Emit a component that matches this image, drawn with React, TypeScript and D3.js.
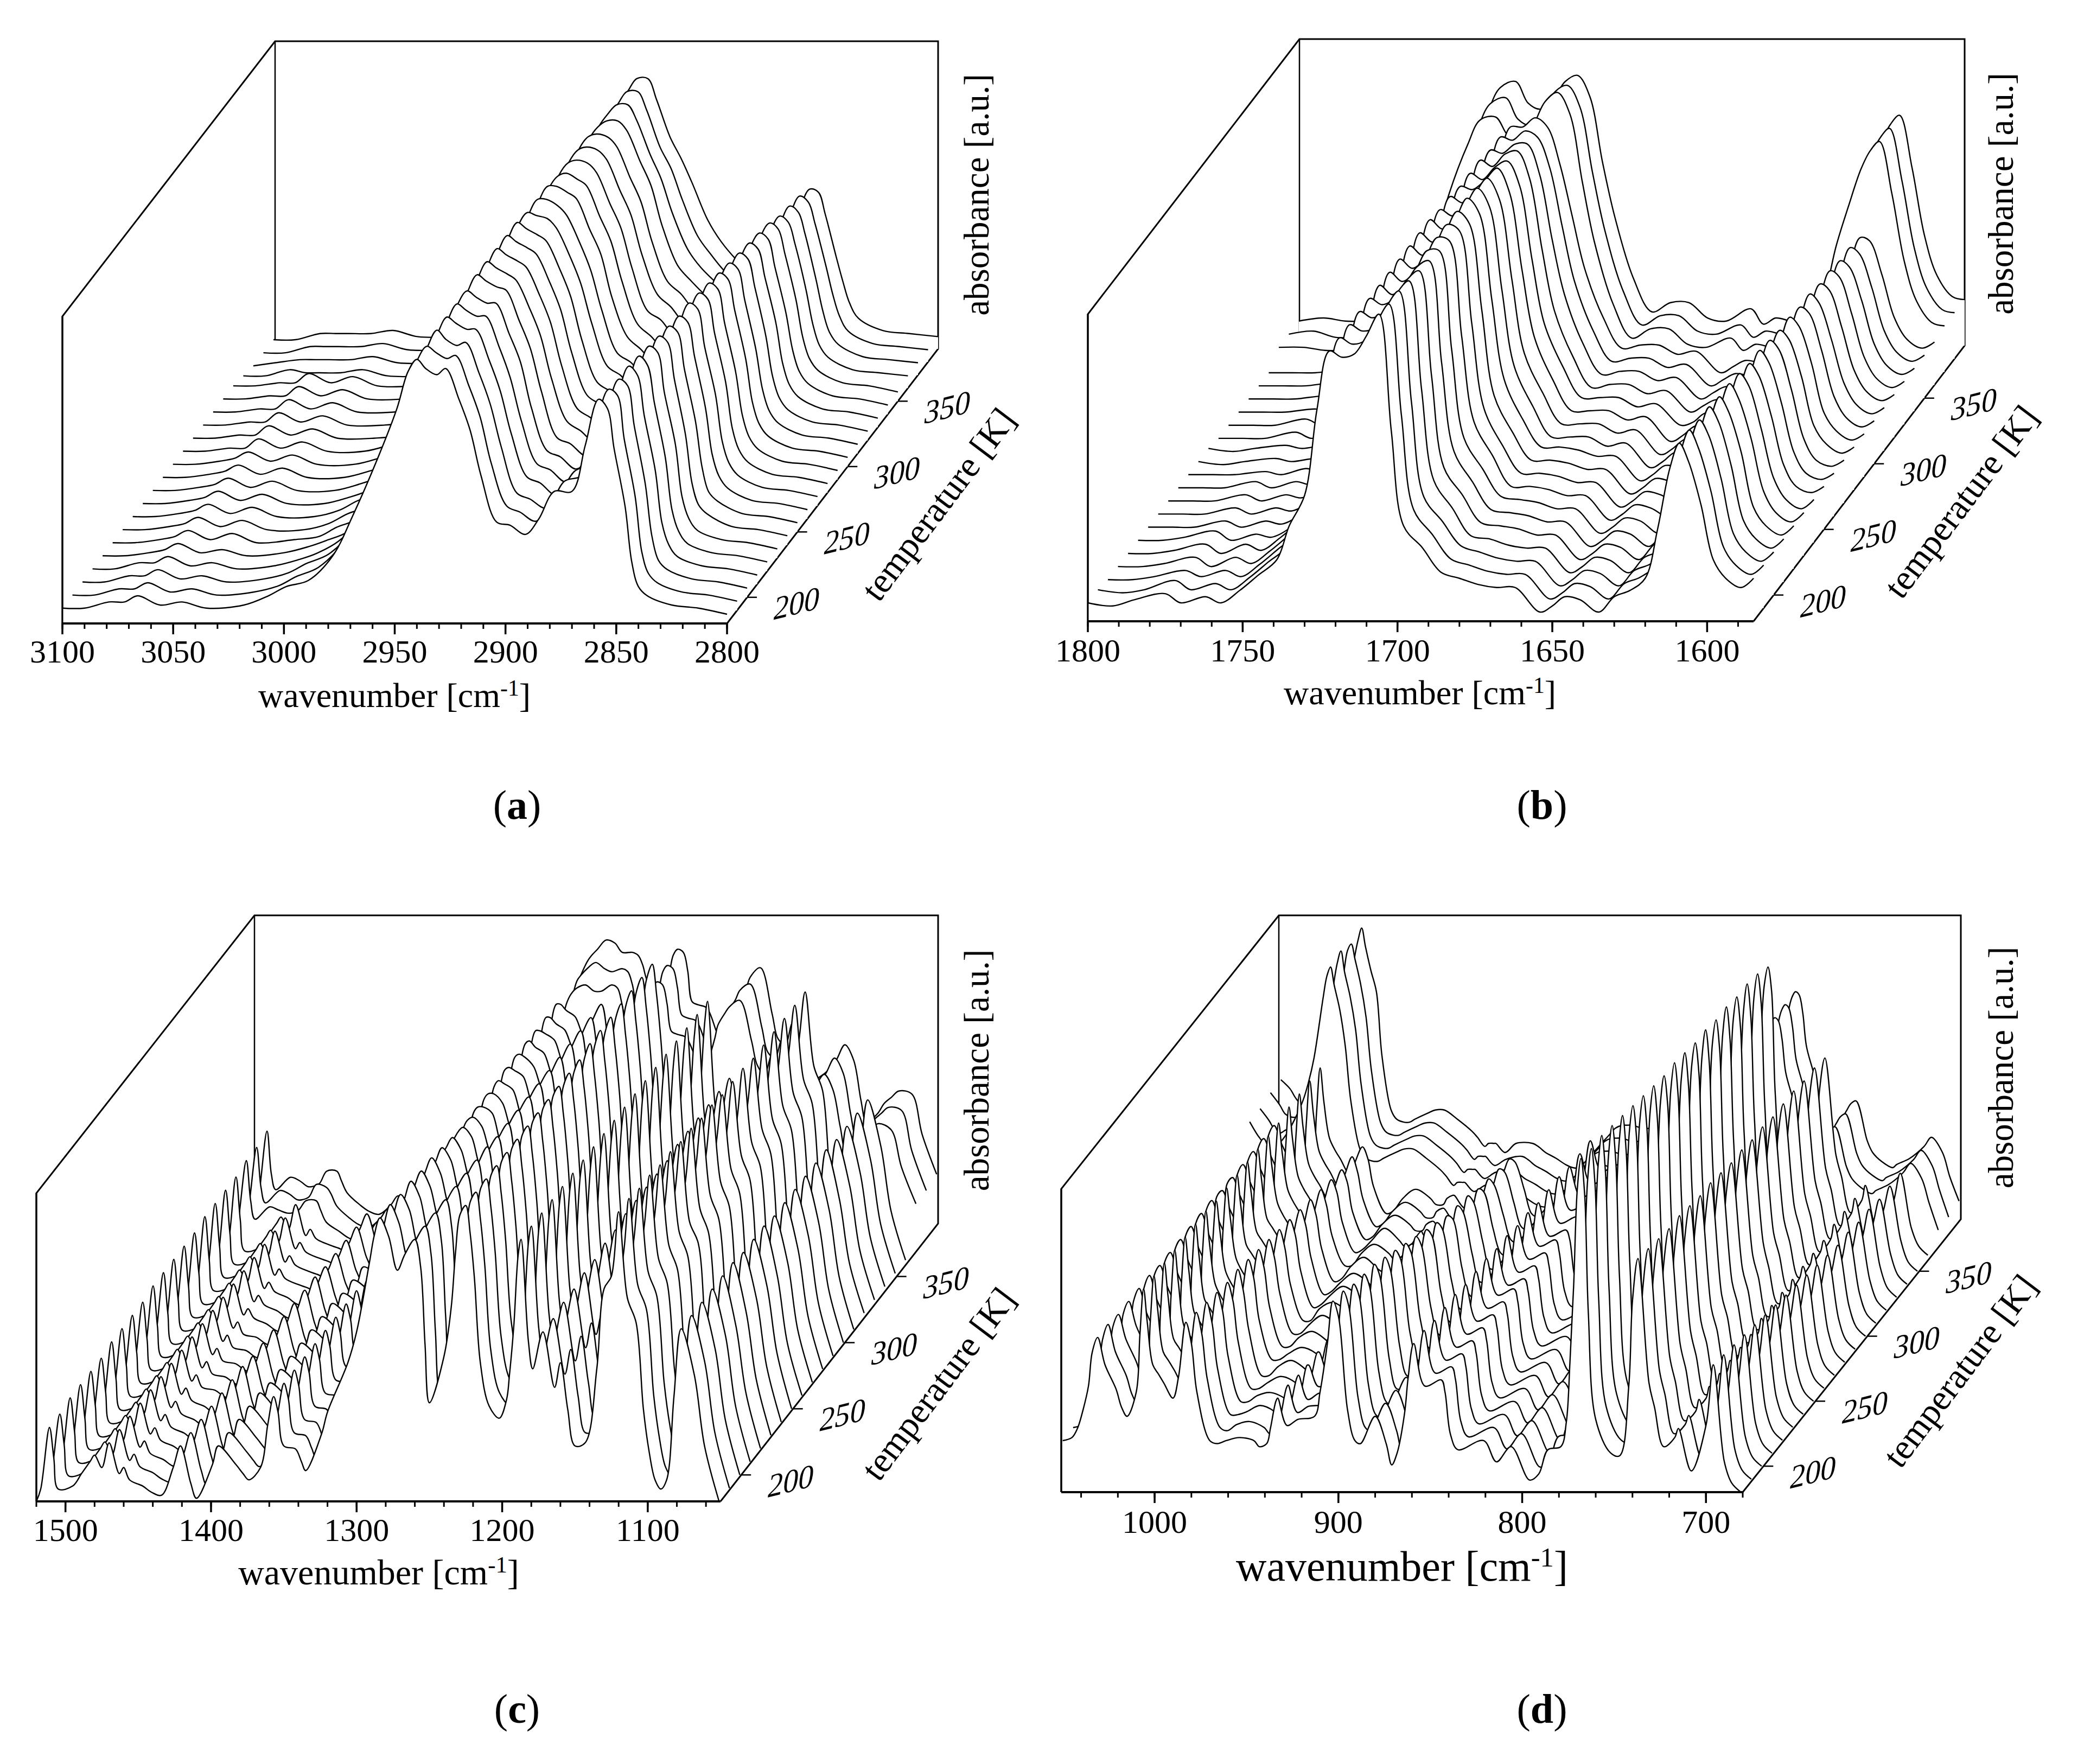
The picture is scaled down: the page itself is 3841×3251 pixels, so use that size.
import React from "react";
import * as d3 from "d3";

// temperature of each trace, front to back
const temperatures = [180,190,200,210,220,230,240,250,260,270,280,290,300,310,320,330,340,350,360,370,380,390];
const tempTicks = [200,250,300,350];

const wnA = [3100,3090,3079,3072,3066,3056,3046,3035,3018,3007,2999,2989,2978,2969,2957,2949,2944,2940,2936,2931,2927,2921,2916,2911,2904,2898,2891,2885,2878,2870,2864,2858,2854,2851,2846,2843,2840,2836,2825,2813,2800];
const absA = [
[5,5,7,7,9,6,7,5,6,9,12,14,22,35,55,70,82,86,83,81,83,73,63,48,33,32,29,34,43,43,58,73,70,57,38,20,12,9,6,5,3],
[5,5,7,7,9,6,7,5,6,8,11,14,22,35,55,70,82,86,84,82,83,73,63,48,34,32,29,33,42,44,59,72,70,56,37,19,12,9,6,5,3],
[5,5,7,7,9,6,7,5,6,8,11,14,22,35,55,70,82,87,84,82,83,73,63,49,34,32,29,33,41,44,58,71,69,56,37,20,12,9,6,5,3],
[5,5,7,7,9,6,7,5,6,8,10,14,22,35,55,70,82,87,85,83,83,73,63,49,35,33,29,32,40,44,58,71,68,55,37,20,13,9,6,5,3],
[5,5,6,7,9,6,7,5,6,8,10,13,22,35,55,70,82,87,85,83,83,73,63,49,35,33,29,32,39,44,57,70,67,55,37,20,13,9,6,5,3],
[5,5,6,7,9,6,8,5,6,7,10,13,22,35,56,70,83,87,85,83,83,73,64,49,35,33,29,32,39,44,57,69,67,54,37,20,13,9,6,5,3],
[5,5,6,7,9,6,8,5,5,7,10,13,22,36,56,71,83,88,86,84,83,73,64,50,35,33,29,31,38,44,56,68,66,54,36,20,13,10,6,5,3],
[5,5,6,7,9,6,8,5,5,7,10,13,22,36,56,71,83,88,86,84,82,73,64,50,36,33,29,31,37,44,56,67,65,53,36,21,13,10,6,5,3],
[5,5,6,7,9,6,8,5,5,7,9,13,22,36,56,71,83,88,86,84,82,73,64,50,36,33,29,31,37,44,55,66,64,53,36,21,14,10,6,5,3],
[5,5,6,7,9,6,8,5,5,7,9,13,22,36,56,71,83,88,86,84,82,73,64,50,36,33,29,30,36,44,55,66,64,52,36,21,14,10,6,5,3],
[5,5,6,7,9,6,8,5,5,7,9,13,22,36,56,71,83,88,86,84,82,73,64,50,36,33,29,30,36,44,55,65,63,52,36,21,14,10,6,5,3],
[5,5,6,7,9,6,8,5,5,7,9,13,22,36,56,71,83,87,86,85,82,73,64,51,37,34,29,30,35,43,54,64,62,51,35,21,14,10,6,5,3],
[5,5,6,6,9,6,8,5,5,7,9,12,21,36,56,71,82,87,87,85,82,73,64,51,37,34,29,29,34,42,53,63,61,51,35,21,14,10,6,5,3],
[5,5,6,6,9,6,8,5,5,6,9,12,21,36,57,71,82,87,87,85,83,73,65,51,38,34,29,29,33,41,53,62,60,50,34,21,14,10,6,5,3],
[5,5,6,6,9,6,8,5,5,6,8,12,21,36,57,72,82,86,87,85,83,73,65,52,38,34,29,29,33,40,52,61,59,50,34,21,14,10,6,5,3],
[5,5,6,6,9,6,8,5,5,6,8,12,21,36,57,72,82,86,87,86,83,73,65,52,38,35,29,28,32,39,51,60,58,49,34,21,14,10,6,5,3],
[5,5,6,6,9,6,8,5,5,6,8,12,21,36,57,72,82,86,87,86,83,73,65,52,39,35,29,28,32,39,51,59,57,48,33,21,14,10,6,5,3],
[5,5,6,6,9,6,8,5,5,6,8,12,21,36,57,72,82,86,87,86,83,73,65,52,39,35,29,28,31,38,50,58,56,48,33,21,14,10,6,5,3],
[4,4,6,5,5,5,6,4,4,5,8,11,20,36,58,72,81,85,87,87,84,74,66,53,40,35,30,27,28,35,47,56,54,47,32,21,14,10,6,5,4],
[3,4,5,5,5,5,6,4,4,5,8,11,20,36,58,72,81,85,88,88,83,72,64,53,41,35,30,26,27,34,45,55,53,46,31,21,14,10,6,5,4],
[3,3,5,5,5,5,6,4,4,5,8,11,20,36,58,72,80,84,88,88,82,70,63,53,41,35,29,26,26,33,44,54,52,45,31,22,15,10,6,5,4],
[3,3,5,5,5,5,6,4,4,5,8,11,20,36,58,72,80,84,88,88,81,69,62,54,42,35,29,25,25,32,42,52,51,44,30,22,15,10,6,5,4],
];

const wnB = [1800,1792,1785,1775,1770,1762,1757,1751,1745,1739,1735,1730,1726,1722,1718,1714,1710,1706,1702,1698,1692,1686,1680,1674,1668,1662,1654,1650,1646,1641,1635,1630,1625,1620,1616,1612,1609,1606,1602,1598,1594,1589,1585];
const absB = [
[6,5,7,9,6,8,6,10,15,20,31,41,69,88,86,87,93,100,62,31,24,16,14,12,11,11,3,5,8,7,3,8,10,14,30,50,58,52,38,20,14,11,14],
[6,5,6,9,6,8,6,10,15,20,31,41,69,88,86,87,93,99,63,32,24,16,14,12,11,11,3,5,8,7,3,8,10,14,30,50,58,52,38,20,14,11,14],
[5,5,6,8,6,8,6,10,15,20,31,41,69,88,86,87,94,99,63,32,24,16,14,12,11,11,3,5,8,7,3,8,10,14,30,49,57,52,38,20,14,11,14],
[5,5,6,8,5,8,6,10,15,20,31,41,69,88,86,88,94,98,63,33,24,15,14,12,11,11,3,5,8,7,3,8,10,14,30,49,57,52,38,20,14,11,14],
[5,5,6,8,5,8,6,10,15,20,31,41,69,88,86,88,94,97,63,33,24,15,14,13,11,11,3,5,8,7,3,8,10,14,29,48,56,51,38,20,14,11,14],
[5,5,6,8,5,7,6,9,15,20,31,41,69,88,85,88,94,96,63,34,24,15,14,13,11,11,3,5,8,7,3,8,10,14,29,48,56,51,38,21,14,11,14],
[5,5,5,7,5,7,6,9,15,20,31,41,69,88,85,88,95,95,63,34,24,15,14,13,11,11,3,5,8,7,3,8,10,14,29,47,55,51,37,21,14,11,14],
[5,5,5,7,5,7,6,9,15,20,31,41,69,88,85,88,95,94,63,35,24,14,14,13,11,11,3,5,8,7,4,8,10,14,28,46,54,50,37,21,14,12,14],
[5,5,5,7,5,7,6,9,15,20,31,41,70,88,85,88,95,93,63,35,23,14,14,13,11,11,3,5,8,7,4,8,10,13,28,46,54,50,37,21,14,12,14],
[5,5,5,7,5,7,6,9,15,20,31,41,70,88,85,88,95,91,63,35,23,14,14,13,11,11,3,5,8,7,4,8,10,13,28,45,53,50,37,21,14,12,14],
[5,5,5,6,5,7,6,9,15,20,31,41,70,88,85,88,95,90,62,36,23,14,14,13,11,11,3,5,8,7,4,7,10,13,27,45,52,49,37,21,15,12,14],
[5,4,5,6,5,6,5,9,14,20,31,41,70,87,85,88,94,88,61,36,23,13,13,13,10,11,3,5,8,7,4,7,10,13,27,44,52,49,37,21,15,12,14],
[5,4,5,6,5,6,5,9,14,20,31,41,70,87,85,88,93,86,60,36,23,13,13,13,10,11,3,5,8,7,4,7,9,13,27,43,51,49,37,22,15,12,14],
[4,4,4,6,4,6,5,9,14,20,31,41,70,86,85,88,92,84,59,37,23,13,13,13,10,11,3,5,8,7,4,7,9,13,26,43,51,48,36,22,15,12,14],
[4,4,4,6,4,6,5,8,14,20,31,41,69,86,84,88,90,82,58,37,23,13,13,13,10,11,4,5,8,7,5,7,9,13,26,42,50,48,36,22,15,12,14],
[4,4,4,5,4,6,5,8,14,20,31,41,69,86,84,88,89,80,57,37,22,12,13,13,10,11,4,6,8,7,5,7,9,13,26,42,50,48,36,22,15,12,14],
[4,4,4,5,4,5,5,8,14,20,31,41,69,85,84,87,87,77,56,38,22,12,13,13,10,11,4,6,8,7,5,7,9,13,25,41,49,47,36,22,15,12,14],
[4,4,4,5,4,5,5,8,14,20,31,41,68,85,84,87,85,75,56,38,22,12,13,13,10,11,4,6,8,7,5,7,9,13,25,41,49,47,36,22,15,12,14],
[4,4,4,5,4,5,5,8,14,20,31,41,68,84,84,87,84,72,55,38,22,12,13,13,10,11,4,6,8,7,5,7,9,13,25,40,48,47,36,22,15,12,14],
[8,8,7,7,7,8,8,36,58,74,82,83,77,75,80,88,91,84,62,42,22,11,14,14,9,8,11,7,9,8,8,10,20,41,54,66,72,75,58,36,23,16,15],
[8,9,7,7,7,8,8,37,59,75,83,85,78,76,80,87,89,82,61,42,22,11,14,14,9,8,11,7,9,8,8,10,20,41,54,66,72,75,58,36,23,16,15],
[8,9,8,8,8,8,9,38,60,76,84,86,79,77,80,86,88,81,60,42,22,11,14,14,9,8,12,7,9,8,8,10,20,42,55,66,72,75,58,36,23,16,15],
];

const wnC = [1520,1517,1511,1508,1505,1495,1489,1483,1480,1475,1470,1463,1460,1456,1447,1441,1434,1426,1421,1414,1410,1399,1395,1383,1378,1374,1366,1361,1357,1354,1350,1342,1338,1335,1324,1320,1306,1300,1291,1288,1284,1278,1272,1267,1260,1256,1253,1250,1240,1235,1232,1229,1225,1222,1219,1215,1209,1202,1197,1195,1192,1189,1187,1182,1179,1172,1164,1160,1155,1150,1143,1135,1130,1125,1120,1114,1108,1103,1099,1095,1091,1087,1082,1077,1068,1061,1051];
const absC = [
[0,4,24,14,4,5,9,13,15,11,19,9,11,7,5,3,2,11,18,6,1,12,18,12,9,7,11,25,34,29,18,17,13,10,22,29,45,55,78,86,92,86,75,80,85,76,51,32,47,63,81,93,96,87,72,45,31,27,33,41,57,80,85,52,43,55,37,45,30,18,19,43,69,73,94,66,58,30,16,7,4,7,34,56,41,18,0],
[0,4,24,14,4,5,9,13,15,11,19,9,11,7,5,3,2,11,18,6,1,12,18,12,9,7,11,25,34,29,18,17,13,10,22,29,45,55,79,86,92,86,75,80,85,76,51,32,47,63,81,93,96,87,72,45,31,27,33,41,57,80,85,52,43,55,37,45,30,18,19,43,69,73,94,66,58,30,16,7,4,7,34,56,41,18,0],
[0,4,25,14,4,5,9,13,15,11,19,9,11,7,5,3,2,11,18,6,1,12,18,12,9,7,11,25,34,29,18,17,13,10,22,29,45,55,79,86,91,86,75,80,85,76,51,32,47,63,81,93,96,87,72,45,31,27,33,41,57,80,85,52,43,56,37,45,30,18,19,43,68,73,93,66,58,30,16,7,4,7,34,56,41,18,0],
[0,4,25,14,4,5,9,13,15,11,19,9,11,7,5,3,2,11,18,6,1,12,18,12,9,7,11,25,34,29,18,17,13,10,22,29,45,55,80,86,91,86,75,80,85,76,51,32,47,63,81,93,96,87,72,45,31,27,33,41,57,80,85,52,43,56,37,45,30,18,19,43,68,73,93,66,58,30,16,7,4,7,34,56,41,18,0],
[0,4,25,14,4,5,9,13,15,11,19,9,11,7,5,3,3,11,18,6,1,12,18,12,9,7,11,25,34,29,18,17,13,10,22,29,45,55,80,86,90,85,75,80,85,76,51,32,47,63,81,93,96,87,72,45,31,27,33,41,57,80,85,52,43,57,37,44,30,18,19,42,67,72,92,66,58,30,16,7,4,7,34,56,40,18,0],
[0,4,25,14,4,5,9,13,15,11,19,9,11,7,5,3,3,11,18,6,2,12,17,12,9,7,11,25,34,29,18,17,13,10,22,29,45,55,81,86,90,85,75,80,85,76,51,32,47,63,81,93,96,87,72,45,31,28,33,41,57,80,85,52,43,57,37,44,30,18,19,42,67,72,92,66,58,30,16,7,4,7,34,56,40,18,0],
[0,4,26,14,4,5,9,13,15,11,19,9,11,7,5,3,3,11,18,6,2,12,17,12,9,7,11,25,34,29,18,17,13,10,22,29,45,55,81,85,89,85,75,80,85,76,51,33,47,63,81,93,96,87,72,46,31,28,33,41,57,80,85,52,43,58,37,44,30,18,19,42,66,72,91,65,58,30,16,7,4,7,34,55,40,18,0],
[0,4,26,14,4,5,9,13,15,11,19,9,11,7,6,4,3,11,17,6,2,12,17,12,9,7,11,25,34,29,18,17,13,10,22,29,45,55,82,85,88,84,75,79,85,75,51,33,47,63,81,93,96,87,72,46,31,28,33,41,57,79,85,52,43,58,37,44,30,18,19,42,66,71,91,65,57,30,16,7,4,7,34,55,40,18,0],
[0,4,26,14,4,5,9,13,15,11,19,9,11,7,6,4,3,11,17,6,2,12,17,12,9,7,11,25,34,29,18,17,13,10,22,29,45,55,82,85,87,84,75,79,84,75,51,33,47,63,81,93,96,87,72,46,31,28,33,41,57,79,85,52,43,59,37,43,30,18,19,41,65,71,90,65,57,30,16,7,4,7,34,55,39,17,0],
[0,4,26,14,4,5,9,13,15,11,19,9,11,7,6,4,3,11,17,6,2,12,17,12,9,7,11,25,33,29,18,17,13,10,22,29,45,55,82,85,86,83,75,79,84,75,51,33,47,63,81,93,96,87,72,46,31,28,33,41,57,79,85,52,43,59,37,43,30,18,19,41,65,71,90,65,57,29,16,7,4,7,34,54,39,17,0],
[0,4,27,14,4,5,9,13,15,11,19,9,11,7,6,4,3,11,17,6,2,12,17,12,9,8,11,25,33,29,18,17,13,10,22,29,45,55,83,85,85,83,74,79,84,75,51,33,47,63,81,92,96,87,72,46,31,28,33,41,57,79,85,52,43,59,37,43,29,18,19,41,65,71,89,65,57,29,16,7,4,7,34,54,39,17,0],
[0,4,27,14,4,5,9,13,15,11,19,9,11,7,6,4,3,11,17,6,2,12,17,12,9,8,11,25,33,29,18,17,13,10,22,29,45,55,83,85,85,82,74,79,84,75,51,33,47,63,81,92,96,87,72,46,32,28,33,41,57,79,85,52,44,59,38,43,29,18,19,41,64,70,89,65,57,29,16,7,4,7,34,54,39,17,0],
[1,4,27,14,4,5,9,13,15,11,19,9,11,8,6,4,3,11,17,6,2,11,16,12,9,8,11,25,33,29,18,17,13,10,22,29,45,55,83,85,84,82,74,79,84,75,51,33,48,64,81,92,97,87,72,46,32,28,33,42,56,79,85,52,44,59,38,43,29,18,19,41,64,70,89,65,57,29,16,7,5,7,34,54,39,17,0],
[1,4,27,14,4,5,9,13,15,11,19,9,11,8,6,4,3,11,17,6,2,11,16,12,9,8,11,25,33,29,18,17,13,10,22,29,45,55,84,85,84,82,74,79,84,75,51,33,48,64,81,92,97,87,72,46,32,28,33,42,56,79,85,52,44,60,38,43,29,19,19,41,64,70,88,65,57,29,16,8,5,8,34,54,39,17,0],
[1,4,27,14,4,5,9,13,15,11,19,9,11,8,6,4,3,11,16,6,2,11,16,12,9,8,11,24,33,29,18,17,13,10,22,30,45,55,84,85,84,81,74,78,84,75,52,33,48,64,81,92,97,87,72,46,32,29,34,42,56,78,85,52,44,60,38,42,29,19,19,40,63,70,88,64,56,29,16,8,5,8,34,54,38,17,1],
[1,4,28,14,4,5,9,13,15,11,19,9,11,8,6,5,4,11,16,6,3,11,16,12,9,8,11,24,33,29,18,17,13,10,22,30,45,55,84,85,83,81,74,78,84,75,52,33,48,64,81,92,97,87,72,47,32,29,34,42,56,78,85,52,44,60,38,42,29,19,19,40,63,70,88,64,56,29,16,8,5,8,34,53,38,17,1],
[1,4,28,14,4,5,9,13,15,11,19,9,11,8,6,5,4,11,16,6,3,11,16,12,9,8,11,24,33,29,18,17,13,10,22,30,45,55,84,84,83,81,74,78,84,74,52,34,48,64,81,92,97,87,72,47,32,29,34,42,56,78,85,52,44,60,38,42,29,19,19,40,63,70,88,64,56,29,16,8,5,8,34,53,38,17,1],
[1,4,28,14,4,5,9,13,15,11,19,9,11,8,6,5,4,11,16,6,3,11,16,12,9,8,11,24,33,29,18,17,13,10,22,30,45,55,84,84,82,80,74,78,84,74,52,34,48,64,81,92,97,87,72,47,32,29,34,42,56,78,85,52,44,60,38,42,29,19,19,40,62,70,88,64,56,29,16,8,5,8,34,53,38,17,1],
[1,4,28,14,4,5,9,13,15,11,19,9,11,8,6,5,4,11,16,6,3,11,16,12,9,8,11,24,33,29,18,17,13,10,22,30,45,55,84,84,82,80,74,78,84,74,52,34,48,64,81,92,97,87,72,47,32,29,34,42,56,78,85,52,44,60,38,42,29,19,19,40,62,70,88,64,56,29,16,8,5,8,34,53,38,17,1],
[3,8,29,16,10,14,13,12,12,13,16,16,13,9,6,4,3,6,9,6,5,10,14,12,10,9,12,22,30,27,20,18,15,13,24,32,52,62,80,83,85,86,84,84,86,85,80,74,69,78,85,87,86,80,71,70,69,62,58,60,64,69,73,77,79,81,68,60,57,63,54,46,47,49,53,57,52,40,32,33,35,37,39,41,39,27,15],
[3,8,29,16,11,15,14,12,12,13,17,16,14,10,6,4,3,6,9,6,5,10,14,12,10,9,12,22,30,27,20,18,15,13,24,32,54,65,83,85,87,89,87,86,87,86,82,76,70,79,86,88,87,81,72,71,70,62,57,60,64,69,73,77,80,82,68,60,58,64,55,47,48,50,53,58,53,40,32,34,36,38,40,42,41,28,15],
[3,8,30,16,11,15,14,12,12,13,17,17,14,10,6,4,3,6,9,6,5,10,14,12,10,9,12,22,30,27,20,18,15,13,24,32,66,75,85,87,89,92,91,88,88,87,84,79,71,80,87,89,88,82,72,71,70,62,57,59,63,68,72,76,80,83,68,60,58,65,55,47,48,50,53,58,53,40,32,34,36,39,41,43,42,29,16],
];

const wnD = [1050,1045,1042,1039,1036,1034,1031,1027,1021,1018,1015,1010,1008,1006,1004,1001,998,995,990,987,983,980,977,970,966,961,954,946,943,939,937,934,933,928,922,913,910,906,903,900,895,891,888,880,874,871,868,864,862,859,853,844,842,839,835,821,814,806,796,791,786,779,776,774,772,770,768,766,764,760,752,747,742,740,737,731,728,723,717,715,708,700,696,690,686,681];
const absD = [
[17,18,21,27,35,46,51,42,34,28,25,33,52,67,56,42,39,36,31,38,56,49,33,17,16,17,18,17,15,16,21,30,31,22,24,25,33,49,63,58,27,17,16,25,16,9,13,26,38,49,35,37,33,19,14,17,10,15,4,6,14,15,23,43,68,100,110,98,59,24,13,12,35,63,77,36,28,15,18,21,7,22,42,10,3,0],
[17,18,21,27,35,46,51,42,34,28,25,33,52,67,56,42,39,36,31,38,55,48,33,17,16,18,19,17,15,16,21,30,31,22,24,25,33,48,62,57,27,17,16,25,16,9,13,26,38,49,35,37,33,19,14,17,10,15,4,6,14,15,23,43,68,99,109,97,59,24,13,12,35,63,76,36,28,15,18,21,7,22,41,10,3,0],
[17,18,21,27,35,46,50,42,34,28,25,33,52,67,56,42,39,36,31,38,54,47,32,17,17,18,20,18,16,17,21,29,30,22,24,25,32,47,60,56,27,17,16,25,16,9,13,26,37,48,35,37,33,19,14,17,10,15,4,6,14,15,23,43,67,99,109,97,58,24,13,12,34,62,75,36,28,15,18,22,7,22,40,10,3,0],
[17,18,21,27,35,46,50,42,34,28,25,33,52,67,56,42,39,36,31,38,53,47,32,17,17,19,20,18,16,17,21,29,29,22,23,25,32,46,59,55,27,17,16,25,16,9,13,26,37,48,35,37,33,19,14,17,10,15,4,6,14,15,23,43,67,98,108,96,58,24,13,12,34,62,74,36,28,15,18,22,7,22,39,10,3,0],
[17,18,21,27,35,46,50,42,34,28,25,33,52,67,56,42,39,36,31,38,52,46,32,17,17,19,21,19,17,18,22,29,29,22,23,25,31,45,58,54,27,17,17,24,16,9,13,26,37,48,35,37,33,19,14,17,10,15,4,6,14,15,23,42,67,97,107,95,58,24,13,12,34,61,74,36,28,15,18,22,7,22,38,10,3,0],
[17,18,21,27,35,46,50,42,34,28,25,33,52,67,56,42,39,36,31,38,52,45,32,17,17,20,22,19,17,18,22,29,29,22,23,25,31,44,56,52,27,17,17,24,16,9,13,26,36,47,35,37,33,19,14,17,10,15,4,6,14,15,23,42,66,97,106,95,57,24,13,12,34,61,73,35,28,15,18,22,7,21,37,10,3,0],
[17,18,21,27,35,46,49,42,34,28,25,33,52,67,56,43,39,36,31,37,51,45,31,18,18,20,22,20,18,19,22,28,28,22,23,25,30,43,54,51,27,18,17,24,16,9,13,26,36,47,35,37,33,19,14,17,10,15,4,6,14,15,23,42,66,96,105,94,57,24,13,12,34,60,72,35,28,15,18,22,7,21,36,10,3,0],
[17,18,21,27,35,46,49,42,34,28,25,33,52,66,56,43,39,36,31,37,50,44,31,18,18,21,23,20,18,19,22,28,28,22,22,25,30,42,52,49,27,18,17,24,16,9,13,26,36,47,35,37,33,19,14,17,10,15,4,6,14,15,23,42,65,95,104,93,57,24,13,12,34,60,72,35,28,15,18,22,7,21,35,10,3,0],
[17,18,21,27,35,46,49,42,34,28,25,33,52,66,56,43,39,36,31,37,49,43,31,18,18,21,24,21,19,20,23,28,27,22,22,24,30,41,50,47,27,18,17,24,16,10,13,25,35,46,34,36,32,19,14,17,10,15,4,6,14,15,23,42,65,94,103,93,56,24,13,12,34,59,71,35,28,15,18,23,8,21,34,10,3,0],
[17,18,21,27,35,46,49,42,34,28,25,33,52,66,56,43,40,37,31,37,48,42,30,18,18,22,24,21,19,20,23,27,27,22,22,24,29,40,48,46,27,18,17,23,16,10,13,25,35,46,34,36,32,19,14,17,10,15,4,6,14,15,23,41,64,94,103,92,56,24,13,12,34,59,70,35,28,15,18,23,8,21,33,10,3,0],
[17,18,21,27,35,46,49,42,34,28,25,33,52,66,56,43,40,37,31,37,47,42,30,18,19,22,25,22,20,21,23,27,27,21,22,24,29,38,46,44,27,18,17,23,16,10,13,25,35,45,34,36,32,19,14,17,10,15,4,6,14,15,23,41,64,93,102,91,56,24,13,12,34,58,70,35,28,15,18,23,8,20,32,10,3,0],
[17,18,21,27,35,46,49,42,34,28,25,33,52,66,56,43,40,37,31,37,46,41,30,18,19,22,25,22,20,21,23,26,26,21,21,24,28,37,44,43,27,18,17,23,16,10,13,25,35,45,34,36,32,19,14,17,10,15,4,6,14,15,23,41,64,93,101,91,55,24,14,13,33,58,69,35,27,15,18,23,8,20,31,10,3,0],
[17,18,21,27,35,46,48,42,34,28,25,33,52,66,56,44,40,37,32,36,45,40,29,18,19,23,26,22,21,21,23,26,26,21,21,24,28,36,43,41,27,18,18,23,16,10,14,25,34,44,33,35,32,19,14,17,11,15,5,7,14,15,23,41,63,92,101,90,55,24,14,13,33,57,69,34,27,15,19,23,8,20,30,10,3,0],
[17,18,21,27,35,46,48,42,34,28,26,34,52,66,56,44,40,37,32,36,44,39,29,19,19,23,26,23,21,22,24,26,26,21,21,24,28,35,42,40,27,18,18,23,17,10,14,25,34,44,33,35,32,19,14,17,11,15,5,7,14,15,23,41,63,92,100,90,55,24,14,13,33,57,68,34,27,15,19,23,8,20,30,10,3,0],
[17,18,21,27,35,45,48,42,34,28,26,34,52,67,56,44,40,37,32,36,43,39,29,19,20,23,27,23,21,22,24,26,25,21,21,24,28,34,40,39,27,19,18,22,17,11,14,25,34,44,33,35,31,19,14,17,11,15,5,7,14,15,22,41,63,91,100,89,55,24,14,13,33,57,68,34,27,15,19,23,8,19,29,10,3,0],
[17,18,21,27,35,45,48,42,34,28,26,34,52,67,56,44,40,37,32,36,42,38,28,19,20,24,27,24,22,22,24,25,25,21,20,24,27,34,39,37,27,19,18,22,17,11,14,24,33,43,33,35,31,19,14,17,11,15,5,7,14,15,22,40,62,91,99,89,54,24,14,13,33,56,68,34,27,15,19,24,8,19,29,10,3,0],
[17,18,21,27,35,45,48,42,34,28,26,34,52,67,56,44,40,37,32,36,42,37,28,19,20,24,27,24,22,22,24,25,25,21,20,24,27,33,38,37,27,19,18,22,17,11,14,24,33,43,33,35,31,19,14,17,11,15,5,7,14,15,22,40,62,90,99,88,54,24,14,13,33,56,67,34,27,15,19,24,8,19,28,10,3,0],
[17,18,21,27,35,45,48,42,34,28,26,34,52,67,56,44,40,37,32,36,41,37,28,19,20,24,27,24,22,22,24,25,25,21,20,24,27,33,37,36,27,19,18,22,17,11,14,24,33,43,33,35,31,19,14,17,11,15,5,7,14,15,22,40,62,90,98,88,54,24,14,13,33,56,67,34,27,15,19,24,8,19,28,10,3,0],
[45,40,38,38,38,38,40,44,52,58,66,86,93,96,90,82,70,52,36,33,32,32,33,35,36,36,33,29,27,24,25,25,25,22,24,25,24,22,21,20,18,17,17,20,25,27,30,31,31,31,30,30,30,30,30,30,28,28,27,30,32,38,46,56,72,90,96,88,54,26,14,13,33,55,66,34,27,15,19,24,8,18,28,10,4,1],
[45,41,38,37,38,38,40,44,52,58,66,86,93,97,90,82,71,53,36,33,32,32,33,35,36,36,33,29,27,24,25,25,25,22,24,25,24,22,21,20,18,17,17,20,25,27,30,31,31,31,30,30,30,30,30,30,28,27,26,29,34,50,60,68,73,75,74,68,57,48,28,31,36,38,39,26,22,19,17,18,20,24,27,22,14,5],
[46,42,39,38,38,39,41,45,52,58,66,86,93,95,90,82,71,53,36,33,32,32,33,35,36,36,33,29,27,24,25,25,25,22,24,25,24,22,21,20,18,17,17,21,26,28,30,31,31,31,30,30,30,30,30,30,28,27,26,29,34,50,60,68,73,75,74,68,57,48,28,31,36,38,39,26,22,19,17,18,20,24,27,22,14,5],
[46,43,40,38,38,40,42,45,52,58,66,86,92,96,90,82,75,54,36,33,32,32,33,35,36,36,33,29,27,24,25,25,25,22,25,25,24,22,21,20,18,17,17,22,26,28,30,31,31,31,30,30,30,30,30,30,28,27,26,30,35,50,60,68,73,75,74,68,57,48,28,31,36,38,39,26,22,19,17,18,20,24,27,22,14,6],
];

const panels = [
  { name: "a", wn: wnA, rows: absA, domain: [3100, 2800], major: [3100,3050,3000,2950,2900,2850,2800], minor: 10,
    left: 115, right: 1340, bottom: 1149, wall: 583, backLeft: 507, backRight: 1729, top: 76, diagTop: 643,
    tickBase: 1221, tickSize: 60, label: [727, 1303, 64], captionX: 953, captionY: 1509,
    absX: 1822, absTop: 135, absBottom: 583, tempC: [1747, 943] },
  { name: "b", wn: wnB, rows: absB, domain: [1800, 1585], major: [1800,1750,1700,1650,1600], minor: 10,
    left: 2005, right: 3232, bottom: 1145, wall: 579, backLeft: 2395, backRight: 3621, top: 72, diagTop: 637,
    tickBase: 1219, tickSize: 60, label: [2617, 1298, 64], captionX: 2842, captionY: 1509,
    absX: 3710, absTop: 132, absBottom: 582, tempC: [3632, 938] },
  { name: "c", wn: wnC, rows: absC, domain: [1520, 1050], major: [1500,1400,1300,1200,1100], minor: 20,
    left: 67, right: 1328, bottom: 2767, wall: 2199, backLeft: 469, backRight: 1729, top: 1687, diagTop: 2255,
    tickBase: 2840, tickSize: 60, label: [698, 2920, 66], captionX: 953, captionY: 3175,
    absX: 1822, absTop: 1745, absBottom: 2200, tempC: [1747, 2564] },
  { name: "d", wn: wnD, rows: absD, domain: [1050.8, 680], major: [1000,900,800,700], minor: 20,
    left: 1956, right: 3212, bottom: 2750, wall: 2191, backLeft: 2357, backRight: 3614, top: 1687, diagTop: 2247,
    tickBase: 2825, tickSize: 60, label: [2584, 2913, 78], captionX: 2842, captionY: 3175,
    absX: 3710, absTop: 1745, absBottom: 2190, tempC: [3630, 2540] },
];

const serif = "'Liberation Serif', 'Times New Roman', serif";

function Panel({ p }: { p: any }) {
  const x = d3.scaleLinear().domain(p.domain).range([p.left, p.right]);
  const y = d3.scaleLinear().domain([0, 100]).range([0, p.wall - p.bottom]);
  const tx = d3.scaleLinear().domain([180, 390]).range([0, p.backRight - p.right]);
  const ty = d3.scaleLinear().domain([180, 390]).range([0, p.diagTop - p.bottom]);
  const lo = Math.min(...p.domain);
  const hi = Math.max(...p.domain);
  const minors = d3.range(Math.ceil(lo / p.minor) * p.minor, hi + 0.01, p.minor);
  const order = d3.range(temperatures.length).reverse();
  const curve = d3.curveCatmullRom.alpha(0.5);

  return (
    <g>
      {/* back walls */}
      <g fill="none" stroke="#000" strokeWidth={3}>
        <path d={`M${p.left},${p.bottom}V${p.wall}L${p.backLeft},${p.top}H${p.backRight}V${p.diagTop}L${p.right},${p.bottom}`} />
        <path d={`M${p.backLeft},${p.top}V${p.diagTop - 16}`} strokeWidth={2.5} />
      </g>

      {/* traces, back to front, each hides what is behind it */}
      {order.map((i) => {
        const t = temperatures[i];
        const dx = tx(t);
        const dy = ty(t);
        const xs = (_: number, j: number) => x(p.wn[j]) + dx;
        const line = d3.line<number>().x(xs).y((v) => p.bottom + dy + y(v)).curve(curve);
        const area = d3.area<number>().x(xs).y0(p.bottom + dy).y1((v) => p.bottom + dy + y(v)).curve(curve);
        return (
          <g key={t}>
            <path d={area(p.rows[i]) as string} fill="#fff" stroke="none" />
            <path d={line(p.rows[i]) as string} fill="none" stroke="#000" strokeWidth={2.4} />
          </g>
        );
      })}

      {/* front axis */}
      <path d={`M${p.left},${p.bottom}H${p.right}`} stroke="#000" strokeWidth={4} />
      <path d={`M${p.left},${p.bottom}V${p.wall}`} stroke="#000" strokeWidth={3} />
      {minors.map((m) => (
        <line key={m} x1={x(m)} x2={x(m)} y1={p.bottom} y2={p.bottom + 10} stroke="#000" strokeWidth={3} />
      ))}
      {p.major.map((m: number) => (
        <g key={m}>
          <line x1={x(m)} x2={x(m)} y1={p.bottom} y2={p.bottom + 20} stroke="#000" strokeWidth={3.5} />
          <text x={x(m)} y={p.tickBase} textAnchor="middle" fontFamily={serif} fontSize={p.tickSize}>{m}</text>
        </g>
      ))}
      <text x={p.label[0]} y={p.label[1]} textAnchor="middle" fontFamily={serif} fontSize={p.label[2]}>
        wavenumber [cm<tspan dy={-p.label[2] * 0.33} fontSize={p.label[2] * 0.65}>-1</tspan>
        <tspan dy={p.label[2] * 0.33}>]</tspan>
      </text>

      {/* temperature axis */}
      {tempTicks.map((t) => (
        <g key={t}>
          <line x1={p.right + tx(t)} x2={p.right + tx(t) + 18} y1={p.bottom + ty(t)} y2={p.bottom + ty(t)} stroke="#000" strokeWidth={2.5} />
          <text
            transform={`translate(${p.right + tx(t) + 91},${p.bottom + ty(t) + 31}) rotate(-14) skewX(-14)`}
            textAnchor="middle" fontFamily={serif} fontStyle="italic" fontSize={58}
          >{t}</text>
        </g>
      ))}
      <text
        transform={`translate(${p.tempC[0]},${p.tempC[1]}) rotate(-53)`}
        textAnchor="middle" fontFamily={serif} fontSize={66}
      >temperature [K]</text>

      <text
        transform={`translate(${p.absX},${(p.absTop + p.absBottom) / 2}) rotate(-90)`}
        textAnchor="middle" fontFamily={serif} fontSize={65}
      >absorbance [a.u.]</text>

      <text x={p.captionX} y={p.captionY} textAnchor="middle" fontFamily={serif} fontSize={76}>
        (<tspan fontWeight="bold">{p.name}</tspan>)
      </text>
    </g>
  );
}

export default function App() {
  return (
    <svg width={3841} height={3251} style={{ position: "absolute", left: 0, top: 0, background: "#fff" }}>
      {panels.map((p) => <Panel key={p.name} p={p} />)}
    </svg>
  );
}
